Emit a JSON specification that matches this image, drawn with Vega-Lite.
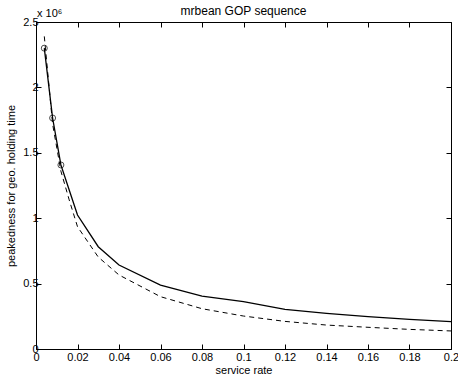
{
  "$schema": "https://vega.github.io/schema/vega-lite/v6.json",
  "width": 415,
  "height": 327,
  "autosize": "none",
  "padding": {"left": 36, "top": 22, "right": 7, "bottom": 30},
  "background": "white",
  "config": {
    "font": "Liberation Sans",
    "view": {"stroke": "black", "strokeWidth": 1},
    "axis": {
      "domain": false,
      "grid": false,
      "tickColor": "black",
      "tickSize": -5,
      "tickWidth": 1,
      "labelColor": "black",
      "labelFont": "Liberation Sans",
      "labelFontSize": 11,
      "titleFont": "Liberation Sans",
      "titleFontSize": 11,
      "titleFontWeight": "normal",
      "titleColor": "black"
    }
  },
  "title": {"text": "mrbean GOP sequence", "fontSize": 12, "fontWeight": "normal", "font": "Liberation Sans", "color": "black", "offset": -10},
  "datasets": {
    "curves": [
      {"rate": 0.004, "peak": 2300000, "series": "solid"},
      {"rate": 0.008, "peak": 1766000, "series": "solid"},
      {"rate": 0.012, "peak": 1407000, "series": "solid"},
      {"rate": 0.016, "peak": 1215000, "series": "solid"},
      {"rate": 0.02, "peak": 1024000, "series": "solid"},
      {"rate": 0.03, "peak": 782000, "series": "solid"},
      {"rate": 0.04, "peak": 642000, "series": "solid"},
      {"rate": 0.06, "peak": 489000, "series": "solid"},
      {"rate": 0.08, "peak": 405000, "series": "solid"},
      {"rate": 0.1, "peak": 362000, "series": "solid"},
      {"rate": 0.12, "peak": 303000, "series": "solid"},
      {"rate": 0.14, "peak": 272000, "series": "solid"},
      {"rate": 0.16, "peak": 247000, "series": "solid"},
      {"rate": 0.18, "peak": 227000, "series": "solid"},
      {"rate": 0.2, "peak": 209000, "series": "solid"},
      {"rate": 0.004, "peak": 2390000, "series": "dashed"},
      {"rate": 0.008, "peak": 1720000, "series": "dashed"},
      {"rate": 0.012, "peak": 1360000, "series": "dashed"},
      {"rate": 0.016, "peak": 1140000, "series": "dashed"},
      {"rate": 0.02, "peak": 935000, "series": "dashed"},
      {"rate": 0.03, "peak": 703000, "series": "dashed"},
      {"rate": 0.04, "peak": 566000, "series": "dashed"},
      {"rate": 0.06, "peak": 400000, "series": "dashed"},
      {"rate": 0.08, "peak": 308000, "series": "dashed"},
      {"rate": 0.1, "peak": 252000, "series": "dashed"},
      {"rate": 0.12, "peak": 211000, "series": "dashed"},
      {"rate": 0.14, "peak": 183000, "series": "dashed"},
      {"rate": 0.16, "peak": 166000, "series": "dashed"},
      {"rate": 0.18, "peak": 150000, "series": "dashed"},
      {"rate": 0.2, "peak": 138000, "series": "dashed"}
    ],
    "multiplier": [{"rate": 0, "peak": 2500000, "label": "x 10⁶"}]
  },
  "resolve": {"axis": {"x": "independent", "y": "independent"}},
  "layer": [
    {
      "data": {"name": "curves"},
      "transform": [{"filter": "datum.series === 'solid'"}],
      "mark": {"type": "line", "color": "black", "strokeWidth": 1.3},
      "encoding": {
        "x": {"field": "rate", "type": "quantitative", "scale": {"domain": [0, 0.2], "nice": false},
          "axis": {"orient": "bottom", "title": "service rate", "values": [0, 0.02, 0.04, 0.06, 0.08, 0.1, 0.12, 0.14, 0.16, 0.18, 0.2], "format": "~g", "labelPadding": 7, "titlePadding": 2, "labelFlush": false}},
        "y": {"field": "peak", "type": "quantitative", "scale": {"domain": [0, 2500000], "nice": false},
          "axis": {"orient": "left", "title": "peakedness for geo. holding time", "values": [0, 500000, 1000000, 1500000, 2000000, 2500000], "labelExpr": "format(datum.value/1000000, '~g')", "labelPadding": 3, "titlePadding": 6, "labelFlush": false}}
      }
    },
    {
      "data": {"name": "curves"},
      "transform": [{"filter": "datum.series === 'dashed'"}],
      "mark": {"type": "line", "color": "black", "strokeWidth": 1, "strokeDash": [5, 4]},
      "encoding": {
        "x": {"field": "rate", "type": "quantitative", "scale": {"domain": [0, 0.2], "nice": false},
          "axis": {"orient": "top", "title": null, "labels": false, "values": [0, 0.02, 0.04, 0.06, 0.08, 0.1, 0.12, 0.14, 0.16, 0.18, 0.2]}},
        "y": {"field": "peak", "type": "quantitative", "scale": {"domain": [0, 2500000], "nice": false},
          "axis": {"orient": "right", "title": null, "labels": false, "values": [0, 500000, 1000000, 1500000, 2000000, 2500000]}}
      }
    },
    {
      "data": {"name": "curves"},
      "transform": [{"filter": "datum.series === 'solid' && datum.rate <= 0.012"}],
      "mark": {"type": "point", "shape": "circle", "filled": false, "color": "black", "size": 36, "strokeWidth": 1},
      "encoding": {
        "x": {"field": "rate", "type": "quantitative", "axis": null},
        "y": {"field": "peak", "type": "quantitative", "axis": null}
      }
    },
    {
      "data": {"name": "multiplier"},
      "mark": {"type": "text", "align": "left", "baseline": "alphabetic", "dy": -5, "dx": 1, "fontSize": 11, "font": "Liberation Sans", "color": "black"},
      "encoding": {
        "x": {"field": "rate", "type": "quantitative", "axis": null},
        "y": {"field": "peak", "type": "quantitative", "axis": null},
        "text": {"field": "label"}
      }
    }
  ]
}
